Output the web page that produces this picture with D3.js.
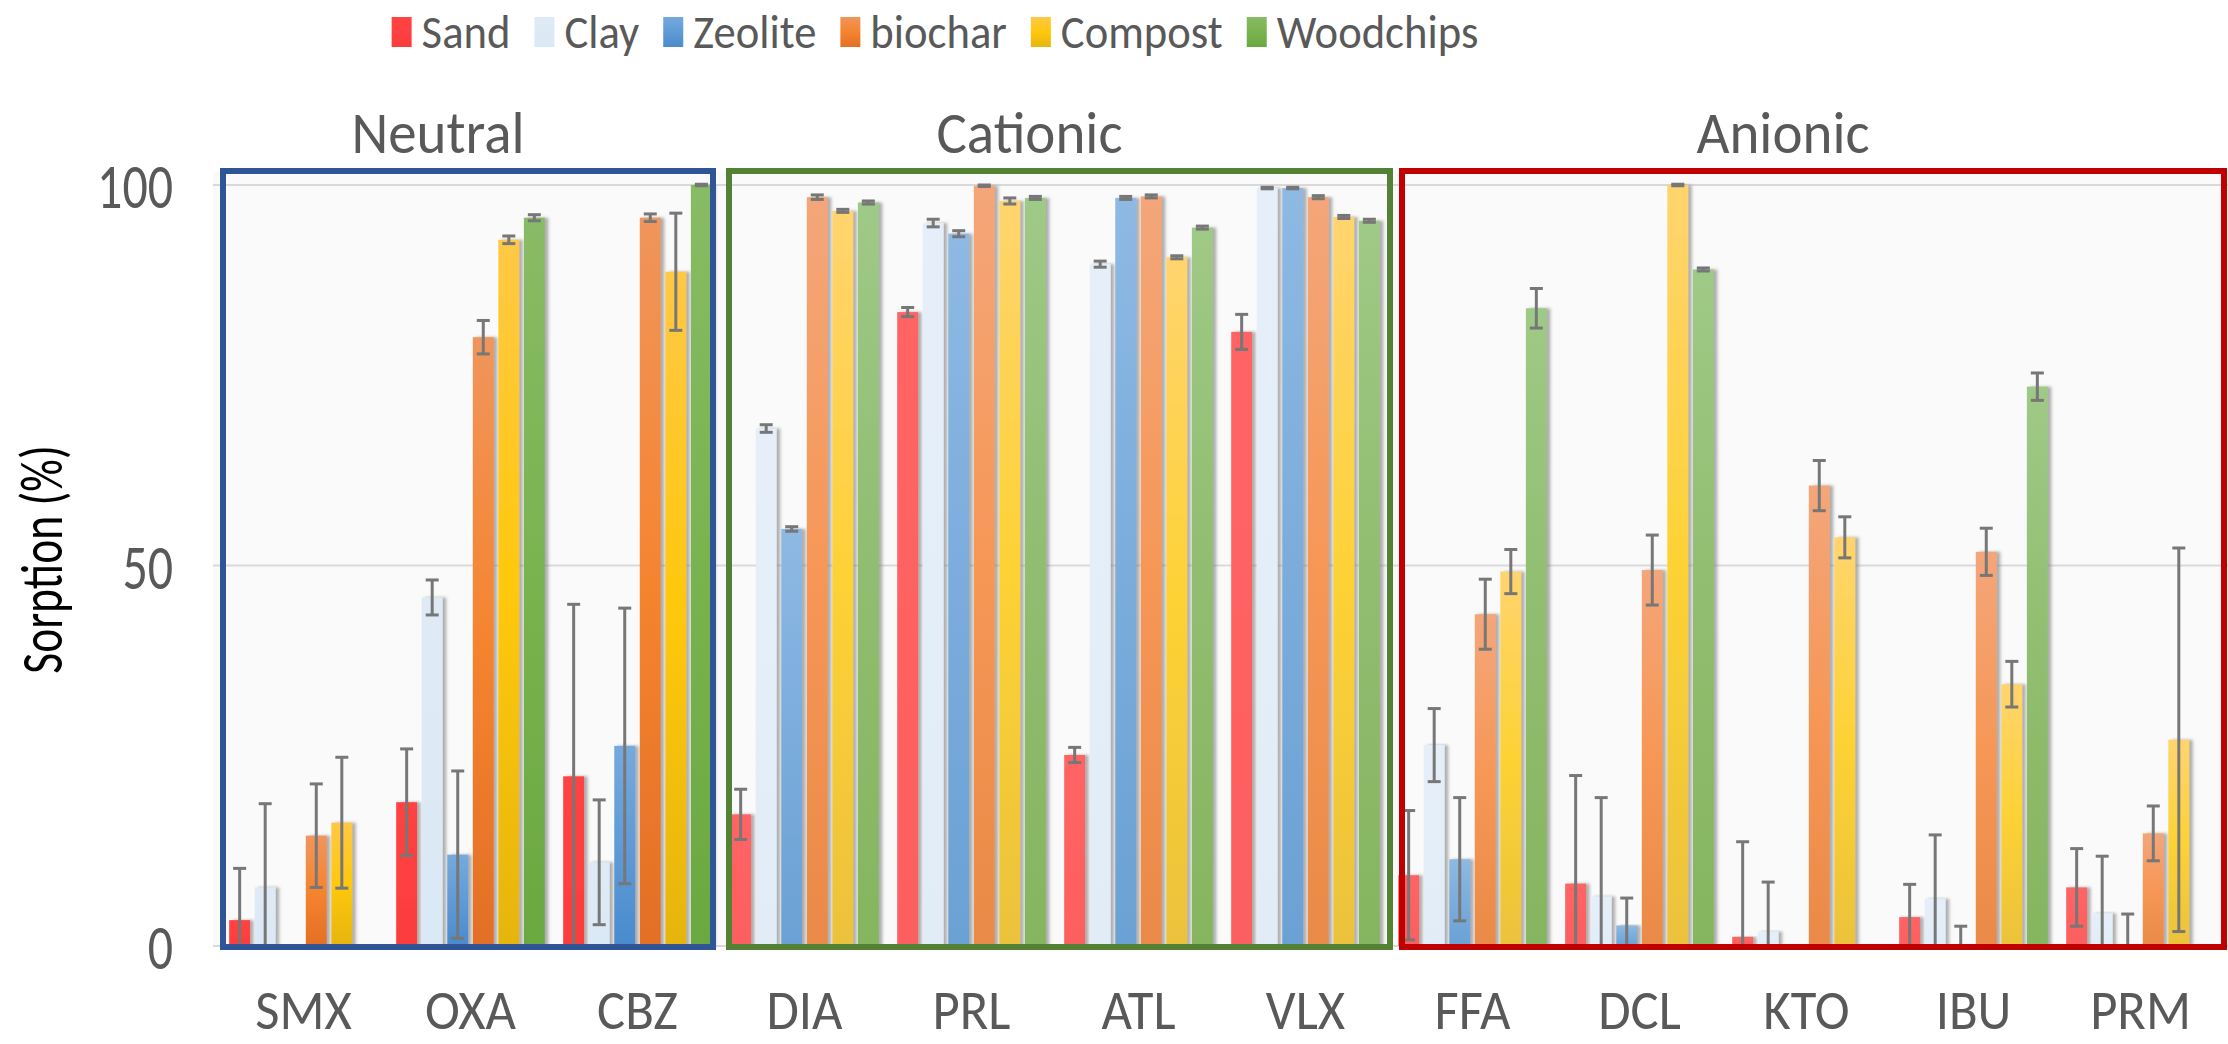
<!DOCTYPE html>
<html>
<head>
<meta charset="utf-8">
<script src="https://cdn.jsdelivr.net/npm/d3@7"></script>
<style>
  html, body { margin: 0; padding: 0; background: #ffffff; }
  svg { display: block; }
  text { font-family: Carlito, Lato, "Open Sans", sans-serif; }
</style>
</head>
<body>
<svg id="chart" width="2228" height="1044"></svg>
<script>
// ---- data: sorption (%) per compound and sorbent, with error (±) ----
const categories = ["SMX", "OXA", "CBZ", "DIA", "PRL", "ATL", "VLX", "FFA", "DCL", "KTO", "IBU", "PRM"];
const seriesNames = ["Sand", "Clay", "Zeolite", "biochar", "Compost", "Woodchips"];

const sand      = [3.4, 18.9, 22.3, 17.3, 83.3, 25.1, 80.7, 9.3, 8.2, 1.2, 3.8, 7.7];
const sandErr   = [6.8, 7.0, 22.6, 3.3, 0.6, 1.0, 2.3, 8.5, 14.2, 12.5, 4.3, 5.1];
const clay      = [7.7, 45.8, 11.0, 68.0, 95.0, 89.6, 99.6, 26.4, 6.5, 1.9, 6.2, 4.3];
const clayErr   = [11.0, 2.3, 8.2, 0.5, 0.5, 0.4, 0.1, 4.8, 13.0, 6.5, 8.4, 7.5];
const zeolite   = [0, 12.0, 26.3, 54.8, 93.6, 98.3, 99.6, 11.4, 2.7, 0, 0, 0];
const zeoliteErr= [0, 11.0, 18.1, 0.3, 0.4, 0.2, 0.1, 8.1, 3.6, 0, 2.6, 4.2];
const biochar   = [14.5, 80.0, 95.7, 98.4, 99.9, 98.5, 98.4, 43.6, 49.4, 60.5, 51.8, 14.8];
const biocharErr= [6.8, 2.2, 0.5, 0.3, 0.1, 0.2, 0.2, 4.6, 4.6, 3.3, 3.1, 3.6];
const compost   = [16.2, 92.8, 88.6, 96.6, 97.9, 90.5, 95.8, 49.2, 100, 53.7, 34.4, 27.1];
const compostErr= [8.6, 0.5, 7.7, 0.2, 0.4, 0.2, 0.2, 2.9, 0.1, 2.7, 3.0, 25.2];
const woodchips = [0, 95.7, 100, 97.7, 98.3, 94.4, 95.3, 83.8, 88.9, 0, 73.5, 0];
const woodchipsErr = [0, 0.4, 0.1, 0.2, 0.2, 0.2, 0.2, 2.6, 0.2, 0, 1.8, 0];

const groupNames = ["Neutral", "Cationic", "Anionic"];
const groupStart = [0, 3, 7];   // first category index of each group
const groupEnd   = [2, 6, 11];  // last category index of each group
const yTicks = [0, 50, 100];
const yTitle = "Sorption (%)";

// ---- styling ----
const values = [sand, clay, zeolite, biochar, compost, woodchips];
const errors = [sandErr, clayErr, zeoliteErr, biocharErr, compostErr, woodchipsErr];

// gradient stops per series: saturated set (neutral) and lighter set (ionic groups)
const deepStops = [
  ["#ff4242", "#ff4040", "#fb3c3c"],
  ["#dfeaf6", "#ddeaf6", "#dbe8f5"],
  ["#75aadd", "#5f9bd6", "#4a8bcd"],
  ["#f0955c", "#f5842f", "#e36f26"],
  ["#ffc845", "#ffc80c", "#e6b50f"],
  ["#88bb66", "#79b34f", "#6ba840"]
];
const lightStops = [
  ["#ff6464", "#ff6161", "#fc5f5f"],
  ["#e6eff9", "#e4eef8", "#e2ecf7"],
  ["#8eb9e3", "#7bacdc", "#6ba1d4"],
  ["#f4a67a", "#f69756", "#e98a48"],
  ["#ffd46e", "#fdd235", "#ebc23b"],
  ["#9fc986", "#90bd6f", "#86b55f"]
];
const boxColors = ["#2f5597", "#548235", "#c00000"];
const boxInset = [[3, 8], [8, -1], [13, 0]];  // [left, right] inset from band edges
const textColor = "#595959";

// ---- layout ----
const W = 2228, H = 1044;
const plot = { left: 220, right: 2224, top: 185, bottom: 946 };

const x = d3.scaleBand().domain(categories)
  .range([plot.left, plot.right]).paddingInner(0.11).paddingOuter(0.055);
const xs = d3.scaleBand().domain(seriesNames)
  .range([0, x.bandwidth()]).paddingInner(0.18).paddingOuter(0);
const y = d3.scaleLinear().domain([0, 100]).range([plot.bottom, plot.top]);

const groupOf = i => groupStart.findIndex((s, g) => i >= s && i <= groupEnd[g]);

const svg = d3.select("#chart");
const defs = svg.append("defs");

function addGradient(id, stops) {
  const g = defs.append("linearGradient").attr("id", id)
    .attr("x1", 0).attr("y1", 0).attr("x2", 0).attr("y2", 1);
  g.append("stop").attr("offset", "0%").attr("stop-color", stops[0]);
  g.append("stop").attr("offset", "50%").attr("stop-color", stops[1]);
  g.append("stop").attr("offset", "100%").attr("stop-color", stops[2]);
}
seriesNames.forEach((s, k) => {
  addGradient("deep" + k, deepStops[k]);
  addGradient("light" + k, lightStops[k]);
});

const shadow = defs.append("filter").attr("id", "shadow")
  .attr("x", "-20%").attr("y", "-5%").attr("width", "160%").attr("height", "110%");
shadow.append("feDropShadow").attr("dx", 3.5).attr("dy", 0)
  .attr("stdDeviation", 1.4).attr("flood-color", "#7a7a7a").attr("flood-opacity", 0.6);

defs.append("clipPath").attr("id", "plotClip").append("rect")
  .attr("x", 0).attr("y", plot.top - 20).attr("width", W).attr("height", plot.bottom - plot.top + 20);

// narrow, tall text: glyphs drawn at size `size`, squeezed horizontally by `sx`
function label(parent, str, px, py, size, sx, anchor, fill) {
  return parent.append("text")
    .attr("transform", `translate(${px},${py}) scale(${sx},1)`)
    .attr("text-anchor", anchor || "start")
    .attr("font-size", size).attr("fill", fill || textColor)
    .text(str);
}

// plot background
svg.append("rect")
  .attr("x", 213).attr("y", 172)
  .attr("width", W - 213).attr("height", plot.bottom - 172)
  .attr("fill", "#fafafa");

// gridlines
svg.append("g").selectAll("line").data(yTicks).join("line")
  .attr("x1", 213).attr("x2", W)
  .attr("y1", d => y(d)).attr("y2", d => y(d))
  .attr("stroke", "#d9d9d9").attr("stroke-width", 2);

// bars
const barData = [];
categories.forEach((c, i) => {
  seriesNames.forEach((s, k) => {
    barData.push({ cat: c, i, s, k, v: values[k][i], e: errors[k][i] });
  });
});

svg.append("g").selectAll("rect").data(barData.filter(d => d.v > 0)).join("rect")
  .attr("x", d => x(d.cat) + xs(d.s))
  .attr("width", xs.bandwidth())
  .attr("y", d => y(d.v))
  .attr("height", d => y(0) - y(d.v))
  .attr("fill", d => `url(#${groupOf(d.i) === 0 ? "deep" : "light"}${d.k})`)
  .attr("filter", "url(#shadow)");

// error bars
const capW = 13;
const eg = svg.append("g").attr("clip-path", "url(#plotClip)")
  .attr("stroke", "#777777").attr("stroke-width", 3).attr("fill", "none");
const errData = barData.filter(d => d.e > 0);
const cx = d => x(d.cat) + xs(d.s) + xs.bandwidth() / 2;
eg.selectAll("line.stem").data(errData).join("line").attr("class", "stem")
  .attr("x1", cx).attr("x2", cx)
  .attr("y1", d => y(d.v + d.e)).attr("y2", d => Math.min(y(d.v - d.e), plot.bottom));
eg.selectAll("line.capTop").data(errData).join("line").attr("class", "capTop")
  .attr("x1", d => cx(d) - capW / 2).attr("x2", d => cx(d) + capW / 2)
  .attr("y1", d => y(d.v + d.e)).attr("y2", d => y(d.v + d.e));
eg.selectAll("line.capBot").data(errData.filter(d => d.v - d.e >= 0)).join("line").attr("class", "capBot")
  .attr("x1", d => cx(d) - capW / 2).attr("x2", d => cx(d) + capW / 2)
  .attr("y1", d => y(d.v - d.e)).attr("y2", d => y(d.v - d.e));

// group frames and titles
const boxTop = 171, boxBottom = 947;
groupNames.forEach((g, gi) => {
  const left = x(categories[groupStart[gi]]) - x.step() * x.paddingInner() / 2 + boxInset[gi][0];
  const right = x(categories[groupEnd[gi]]) + x.bandwidth() + x.step() * x.paddingInner() / 2 - boxInset[gi][1];
  svg.append("rect")
    .attr("x", left).attr("y", boxTop)
    .attr("width", right - left).attr("height", boxBottom - boxTop)
    .attr("fill", "none").attr("stroke", boxColors[gi]).attr("stroke-width", 6);
  label(svg, g, (left + right) / 2 - 30, 153, 60, 0.95, "middle");
});

// y axis tick labels
yTicks.forEach(t => label(svg, t, 173, y(t) + 23, 64, 0.78, "end"));

// y axis title
svg.append("text")
  .attr("transform", `translate(62, ${(plot.top + plot.bottom) / 2 - 6}) rotate(-90) scale(0.76,1)`)
  .attr("text-anchor", "middle")
  .attr("font-size", 60).attr("fill", "#000")
  .text(yTitle);

// x axis category labels
categories.forEach(c => label(svg, c, x(c) + x.bandwidth() / 2, 1029, 56, 0.94, "middle"));

// legend
const legend = svg.append("g");
let lx = 0;
const legendSx = 0.93;
seriesNames.forEach((s, k) => {
  const it = legend.append("g").attr("transform", `translate(${lx}, 48)`);
  it.append("rect").attr("x", 0).attr("y", -31).attr("width", 20).attr("height", 30)
    .attr("fill", `url(#deep${k})`);
  const t = label(it, s, 30, 0, 48, legendSx);
  lx += 30 + t.node().getComputedTextLength() * legendSx + 24;
});
const legendWidth = lx - 24;
legend.attr("transform", `translate(${935 - legendWidth / 2}, 0)`);
</script>
</body>
</html>
